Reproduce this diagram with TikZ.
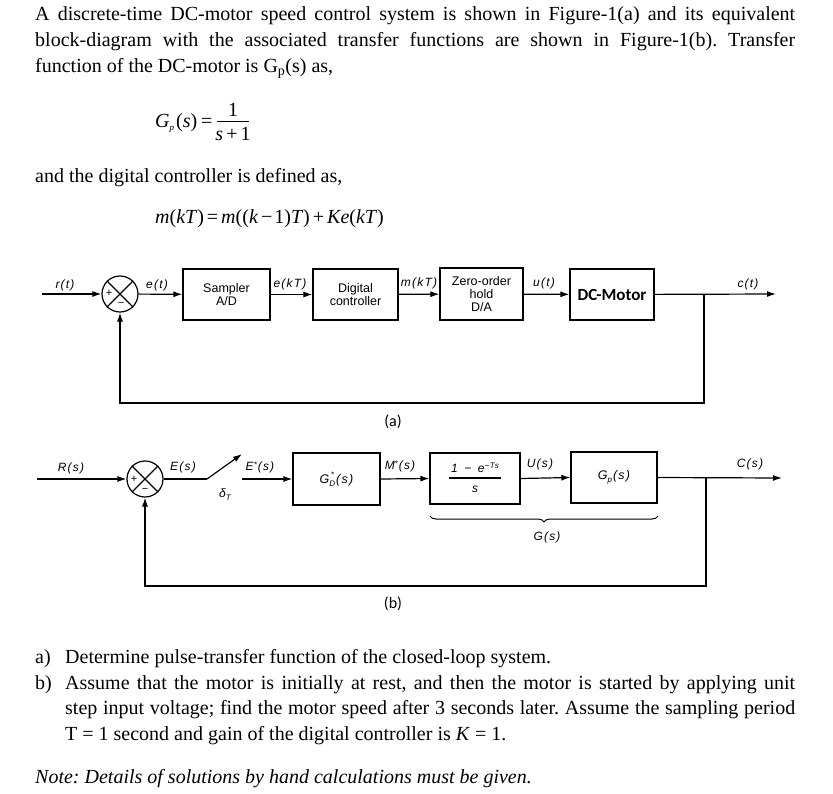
\documentclass[tikz,border=0pt]{standalone}
\usepackage{fontspec}
\setmainfont{Liberation Serif}
\newfontfamily\sfa{Liberation Sans}
\newfontfamily\lblfam[LetterSpace=10]{Liberation Sans}
\newfontfamily\calfam{Carlito}
\usetikzlibrary{arrows.meta,decorations.pathreplacing}
\newcommand{\sml}[1]{{\fontsize{8}{8}\selectfont #1}}
\frenchspacing
\begin{document}
\begin{tikzpicture}[x=1pt,y=-1pt,
  txt/.style={anchor=base west, inner sep=0, font=\fontsize{20}{24}\selectfont},
  blk/.style={draw, line width=1.2pt, inner sep=0, align=center, font=\sfa\fontsize{12.5}{13.5}\selectfont},
  lbl/.style={inner sep=0, font=\lblfam\itshape\fontsize{12}{14}\selectfont},
  arr/.style={line width=1.2pt, -{Latex[length=9pt,width=6pt]}},
  ln/.style={line width=1.2pt},
  sumc/.style={circle, draw, line width=1.2pt, minimum size=36pt, inner sep=0},
  sgn/.style={inner sep=0, font=\sfa\fontsize{11}{11}\selectfont},
  capt/.style={inner sep=0, font=\calfam\fontsize{16}{16}\selectfont}]
\useasboundingbox[fill=white] (0,0) rectangle (833,793);

% ---------- top text ----------
\node[txt] (l1) at (35,20) {\makebox[760pt][s]{A discrete-time DC-motor speed control system is shown in Figure-1(a) and its equivalent}};
\node[txt] (l2) at (35,46) {\makebox[760pt][s]{block-diagram with the associated transfer functions are shown in Figure-1(b). Transfer}};
\node[txt] (l3) at (35,72) {function of the DC-motor is G\textsubscript{p}(s) as,};
\node[txt] (gpl) at (155,127) {\textit{G}\raisebox{-3pt}{\fontsize{9}{9}\selectfont\textit{p}}\kern2pt(\textit{s})\kern4pt=};
\node[txt, anchor=base] (gpn) at (233,116) {1};
\coordinate (fb1l) at (217,121);
\coordinate (fb1r) at (249,121);
\draw[line width=0.9pt] (fb1l) -- (fb1r);
\node[txt, anchor=base] (gpd) at (233,140) {\textit{s}\kern3pt+\kern3pt1};
\node[txt] (l4) at (35,182) {and the digital controller is defined as,};
\node[txt] (meq) at (155,223) {\textit{m}(\textit{kT\kern1pt})\kern3pt=\kern3pt\textit{m}((\textit{k}\kern3pt−\kern2pt1)\textit{T\kern1pt})\kern3pt+\kern3pt\textit{Ke}(\textit{kT\kern1pt})};

% ---------- diagram (a) ----------
\node[sumc] (sum1) at (120,294) {};
\draw[ln] (sum1.north west) -- (sum1.south east) (sum1.north east) -- (sum1.south west);
\node[sgn] (p1) at (109,293) {+};
\node[sgn] (m1) at (121,304) {−};
\node[blk, minimum width=87pt, minimum height=51pt] (samp) at (226.5,294.5) {Sampler\\A/D};
\node[blk, minimum width=85pt, minimum height=51pt] (dig) at (355.5,294.5) {Digital\\controller};
\node[blk, minimum width=83pt, minimum height=52pt, font=\sfa\fontsize{12.5}{13}\selectfont] (zoh) at (481.5,294) {Zero-order\\hold\\D/A};
\node[blk, minimum width=84pt, minimum height=51pt, font=\calfam\bfseries\fontsize{17}{17}\selectfont] (dcm) at (612,294.5) {DC-Motor};
\coordinate (rin) at (42,294);
\coordinate (cout) at (776,294);
\coordinate (br1) at (704,294);
\coordinate (fa1) at (704,403);
\coordinate (fa2) at (120,403);
\draw[arr] (rin) -- (sum1);
\draw[arr] (sum1) -- (samp);
\draw[arr] (samp) -- (dig);
\draw[arr] (dig) -- (zoh);
\draw[arr] (zoh) -- (dcm);
\draw[arr] (dcm) -- (cout);
\draw[arr] (br1) -- (fa1) -- (fa2) -- (sum1);
\node[lbl] (lr) at (65,285) {r(t)};
\node[lbl] (le) at (157,285) {e(t)};
\node[lbl] (lek) at (290,284) {e(kT)};
\node[lbl] (lmk) at (419,283) {m(kT)};
\node[lbl] (lu) at (544,283) {u(t)};
\node[lbl] (lc) at (748,284) {c(t)};
\node[capt] (capa) at (393,422) {(a)};

% ---------- diagram (b) ----------
\node[sumc] (sum2) at (145,479) {};
\draw[ln] (sum2.north west) -- (sum2.south east) (sum2.north east) -- (sum2.south west);
\node[sgn] (p2) at (134,479) {+};
\node[sgn] (m2) at (145,490) {−};
\coordinate (rin2) at (37,479);
\coordinate (sw1) at (207,479);
\coordinate (sw2) at (242,454);
\coordinate (sw3) at (242,479);
\node[blk, minimum width=87pt, minimum height=52pt, font=\lblfam\itshape\fontsize{12.5}{14}\selectfont] (gd) at (336.5,479) {G\raisebox{-3pt}{\fontsize{8}{6}\selectfont\shortstack{*\\D}}\kern1pt(s)};
\node[blk, minimum width=90pt, minimum height=51pt] (zh) at (475,478.5) {};
\node[lbl] (zhn) at (475,468) {1 \kern2pt− \kern2pt e\raisebox{4pt}{\sml{−Ts}}};
\coordinate (zbl) at (449,478);
\coordinate (zbr) at (501,478);
\draw[line width=1.2pt] (zbl) -- (zbr);
\node[lbl] (zhd) at (475,489) {s};
\node[blk, minimum width=86pt, minimum height=51pt, font=\lblfam\itshape\fontsize{12.5}{14}\selectfont] (gp) at (614,477.5) {G\raisebox{-3pt}{\sml{p}}\kern1pt(s)};
\coordinate (cout2) at (782,478);
\coordinate (br2) at (706,478);
\coordinate (fb2a) at (706,586);
\coordinate (fb2b) at (145,586);
\draw[arr] (rin2) -- (sum2);
\draw[ln] (sum2) -- (sw1);
\draw[arr] (sw1) -- (sw2);
\draw[arr] (sw3) -- (gd);
\draw[arr] (gd.east) -- (zh.west);
\draw[arr] (zh.east) -- (gp.west);
\draw[arr] (gp.east) -- (cout2);
\draw[arr] (br2) -- (fb2a) -- (fb2b) -- (sum2);
\coordinate (brl) at (430,516);
\coordinate (brr) at (658,516);
\draw[line width=1pt, decorate, decoration={brace, mirror, amplitude=6pt}] (brl) -- (brr);
\node[lbl] (lR) at (71,468) {R(s)};
\node[lbl] (lE) at (183,467) {E(s)};
\node[lbl] (ldel) at (225,495) {δ\raisebox{-3pt}{\sml{T}}};
\node[lbl] (lEs) at (260,467) {E\raisebox{3pt}{\sml{*}}\kern1pt(s)};
\node[lbl] (lMs) at (400,466) {M\raisebox{3pt}{\sml{*}}\kern1pt(s)};
\node[lbl] (lU) at (540,464) {U(s)};
\node[lbl] (lC) at (750,464) {C(s)};
\node[lbl] (lG) at (547,537) {G(s)};
\node[capt] (capb) at (393,604) {(b)};

% ---------- bottom text ----------
\node[txt] (qa) at (35,663) {a)};
\node[txt] (qat) at (65,663) {Determine pulse-transfer function of the closed-loop system.};
\node[txt] (qb) at (35,689) {b)};
\node[txt] (qbt1) at (65,689) {\makebox[730pt][s]{Assume that the motor is initially at rest, and then the motor is started by applying unit}};
\node[txt] (qbt2) at (65,714) {\makebox[730pt][s]{step input voltage; find the motor speed after 3 seconds later. Assume the sampling period}};
\node[txt] (qbt3) at (65,740) {T = 1 second and gain of the digital controller is \textit{K} = 1.};
\node[txt] (note) at (35,783) {\textit{Note: Details of solutions by hand calculations must be given.}};
\end{tikzpicture}
\end{document}
